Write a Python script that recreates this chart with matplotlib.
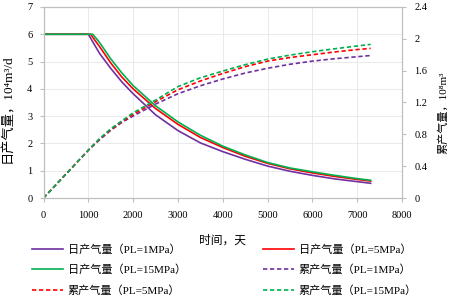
import matplotlib
matplotlib.use("Agg")
import matplotlib.pyplot as plt
from matplotlib.ticker import FormatStrFormatter, MultipleLocator

plt.rcParams['font.family'] = ['Liberation Serif', 'Noto Sans CJK SC']
plt.rcParams['font.size'] = 7.5

# time, days
t_pl1 = [0, 500, 1000, 1250, 1500, 1750, 2000, 2500, 3000, 3500, 4000, 4500, 5000, 5500, 6000, 6500, 7000, 7300]
t_pl5 = [0, 500, 1050, 1250, 1500, 1750, 2000, 2500, 3000, 3500, 4000, 4500, 5000, 5500, 6000, 6500, 7000, 7300]
t_pl15 = [0, 500, 1100, 1250, 1500, 1750, 2000, 2500, 3000, 3500, 4000, 4500, 5000, 5500, 6000, 6500, 7000, 7300]

# daily gas rate, 10^4 m3/d
q_pl1 = [6.0, 6.0, 6.0, 5.30, 4.75, 4.25, 3.82, 3.05, 2.47, 2.02, 1.70, 1.42, 1.17, 0.98, 0.83, 0.70, 0.60, 0.54]
q_pl5 = [6.0, 6.0, 6.0, 5.55, 4.95, 4.43, 4.00, 3.28, 2.70, 2.22, 1.85, 1.53, 1.27, 1.07, 0.92, 0.79, 0.68, 0.62]
q_pl15 = [6.0, 6.0, 6.0, 5.70, 5.10, 4.58, 4.12, 3.38, 2.79, 2.30, 1.90, 1.58, 1.30, 1.10, 0.96, 0.83, 0.71, 0.65]

# cumulative gas, 10^8 m3
g_pl1 = [0.0, 0.30, 0.60, 0.73, 0.85, 0.95, 1.03, 1.18, 1.31, 1.41, 1.495, 1.57, 1.63, 1.68, 1.72, 1.75, 1.775, 1.79]
g_pl5 = [0.0, 0.30, 0.63, 0.74, 0.86, 0.96, 1.05, 1.21, 1.36, 1.47, 1.565, 1.65, 1.72, 1.765, 1.80, 1.835, 1.865, 1.88]
g_pl15 = [0.0, 0.30, 0.66, 0.745, 0.87, 0.97, 1.07, 1.23, 1.40, 1.51, 1.595, 1.675, 1.745, 1.795, 1.838, 1.875, 1.91, 1.93]

labels_q = ['日产气量（PL=1MPa）', '日产气量（PL=5MPa）', '日产气量（PL=15MPa）']
labels_g = ['累产气量（PL=1MPa）', '累产气量（PL=5MPa）', '累产气量（PL=15MPa）']
colors = ['#7030A0', '#FF0000', '#00B050']

fig = plt.figure(figsize=(4.56, 3.03), dpi=100)
ax = fig.add_axes([0.0954, 0.3465, 0.7862, 0.6305])
ax2 = ax.twinx()

dash = (0, (2.6, 1.6))
hq = []
for t, q, c, l in zip([t_pl1, t_pl5, t_pl15], [q_pl1, q_pl5, q_pl15], colors, labels_q):
    h, = ax.plot(t, q, color=c, lw=1.2, label=l)
    hq.append(h)
hg = []
for t, g, c, l in zip([t_pl1, t_pl5, t_pl15], [g_pl1, g_pl5, g_pl15], colors, labels_g):
    h, = ax2.plot(t, g, color=c, lw=1.2, linestyle=dash, label=l)
    hg.append(h)

ax.set_xlim(0, 8000)
ax.set_ylim(0, 7)
ax2.set_ylim(0, 2.4)
ax.xaxis.set_major_locator(MultipleLocator(1000))
ax.yaxis.set_major_locator(MultipleLocator(1))
ax2.yaxis.set_major_locator(MultipleLocator(0.4))
ax2.yaxis.set_major_formatter(FormatStrFormatter('%g'))

gridc = '#e6e6e6'
ax.grid(True, color=gridc, lw=0.6)
ax.set_axisbelow(True)
for a in (ax, ax2):
    for s in a.spines.values():
        s.set_color('#bfbfbf')
        s.set_linewidth(0.8)
    a.tick_params(axis='both', colors='#bfbfbf', labelcolor='black', length=3, width=0.8, labelsize=7.5)
ax.tick_params(axis='x', pad=6)
ax.tick_params(axis='y', pad=5)
ax2.tick_params(axis='y', pad=6)

ax.set_xlabel('时间，天', fontsize=8.5)
ax.xaxis.set_label_coords(0.5, -0.19)
ax.set_ylabel('日产气量，10⁴m³/d', fontsize=9.5)
ax.yaxis.set_label_coords(-0.082, 0.47)
ax2.set_ylabel('累产气量，10⁸m³', fontsize=8)
ax2.yaxis.set_label_coords(1.10, 0.445)

handles = [hq[0], hq[2], hg[1], hq[1], hg[0], hg[2]]
fig.legend(handles=handles, labels=[h.get_label() for h in handles], ncol=2,
           loc='center', bbox_to_anchor=(0.4926, 0.109), frameon=False,
           handlelength=2.8, handletextpad=0.4, columnspacing=6.95,
           labelspacing=0.9, fontsize=8)

fig.savefig('out.png', dpi=100)
